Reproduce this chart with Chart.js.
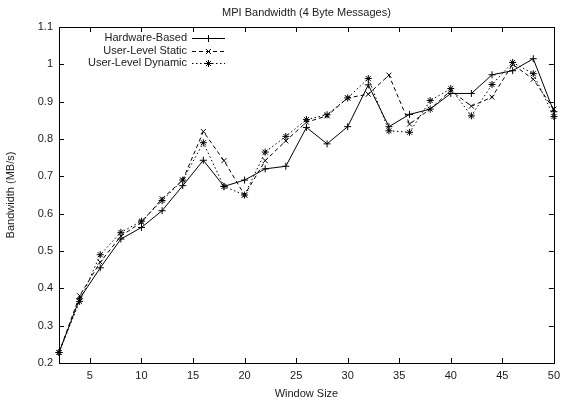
<!DOCTYPE html>
<html>
<head>
<meta charset="utf-8">
<script src="https://cdn.jsdelivr.net/npm/chart.js@4/dist/chart.umd.min.js"></script>
<style>
html,body{margin:0;padding:0;background:#fff;}
#wrap{width:566px;height:404px;position:relative;}
</style>
</head>
<body>
<div id="wrap"><canvas id="c" width="566" height="404"></canvas></div>
<script>
const windowSizes = [2,4,6,8,10,12,14,16,18,20,22,24,26,28,30,32,34,36,38,40,42,44,46,48,50];
const hardwareBased = [0.228,0.372,0.455,0.532,0.563,0.608,0.675,0.743,0.673,0.690,0.720,0.727,0.831,0.787,0.833,0.945,0.833,0.866,0.880,0.922,0.922,0.972,0.983,1.015,0.873];
const userStatic = [0.228,0.380,0.470,0.540,0.577,0.640,0.690,0.820,0.742,0.650,0.742,0.795,0.845,0.862,0.910,0.920,0.971,0.840,0.880,0.930,0.888,0.912,1.000,0.960,0.880];
const userDynamic = [0.228,0.365,0.490,0.550,0.580,0.635,0.690,0.790,0.673,0.650,0.765,0.807,0.852,0.865,0.910,0.962,0.822,0.818,0.903,0.935,0.862,0.946,1.005,0.975,0.860];
const xTicks = [5,10,15,20,25,30,35,40,45,50];
const yTicks = [0.2,0.3,0.4,0.5,0.6,0.7,0.8,0.9,1.0,1.1];
const seriesNames = ['Hardware-Based','User-Level Static','User-Level Dynamic'];
const titleText = 'MPI Bandwidth (4 Byte Messages)';

const FONT = '"Liberation Sans", Arial, sans-serif';
const TXT = '#1a1a1a';

function pts(arr){ return windowSizes.map((x,i)=>({x:x,y:arr[i]})); }

const styles = [
  {dash:[], point:'cross'},
  {dash:[4,3], point:'crossRot'},
  {dash:[1.5,2.5], point:'star'}
];
const seriesData = [hardwareBased, userStatic, userDynamic];

const datasets = seriesData.map((arr,i)=>({
  label: seriesNames[i],
  data: pts(arr),
  borderColor:'#000',
  backgroundColor:'#000',
  borderWidth:1,
  borderDash: styles[i].dash,
  pointStyle: styles[i].point,
  pointRadius: 3.5,
  pointBorderWidth: 1,
  pointBorderColor:'#000',
  tension:0,
  fill:false,
  clip:false
}));

const framePlugin = {
  id:'frame',
  afterDraw(chart){
    const ctx = chart.ctx, a = chart.chartArea;
    const xs = chart.scales.x, ys = chart.scales.y;
    ctx.save();
    ctx.strokeStyle = '#000';
    ctx.lineWidth = 1;
    ctx.setLineDash([]);
    ctx.strokeRect(Math.round(a.left)+0.5, Math.round(a.top)+0.5, Math.round(a.right-a.left), Math.round(a.bottom-a.top));
    const L = 5;
    ctx.beginPath();
    xTicks.forEach(v=>{
      const px = Math.round(xs.getPixelForValue(v))+0.5;
      ctx.moveTo(px, a.bottom); ctx.lineTo(px, a.bottom-L);
      ctx.moveTo(px, a.top); ctx.lineTo(px, a.top+L);
    });
    yTicks.forEach(v=>{
      const py = Math.round(ys.getPixelForValue(v))+0.5;
      ctx.moveTo(a.left, py); ctx.lineTo(a.left+L, py);
      ctx.moveTo(a.right, py); ctx.lineTo(a.right-L, py);
    });
    ctx.stroke();

    // title
    ctx.fillStyle = TXT;
    ctx.font = '11px ' + FONT;
    ctx.textAlign = 'center';
    ctx.textBaseline = 'middle';
    ctx.fillText(titleText, (a.left+a.right)/2, 13);

    // legend
    const textRight = 187, lx0 = 192, lx1 = 225;
    const rowY = [38, 50.5, 62.5];
    chart.data.datasets.forEach((ds,i)=>{
      const y = rowY[i];
      ctx.fillStyle = TXT;
      ctx.textAlign = 'right';
      ctx.fillText(ds.label, textRight, y);
      ctx.strokeStyle = '#000';
      ctx.lineWidth = 1;
      ctx.setLineDash(ds.borderDash);
      ctx.beginPath();
      ctx.moveTo(lx0, Math.round(y)+0.5);
      ctx.lineTo(lx1, Math.round(y)+0.5);
      ctx.stroke();
      ctx.setLineDash([]);
      Chart.helpers.drawPoint(ctx, {pointStyle: ds.pointStyle, radius: 3.5, borderWidth: 1, rotation:0}, (lx0+lx1)/2, Math.round(y)+0.5);
    });
    ctx.restore();
  }
};

new Chart(document.getElementById('c'), {
  type:'line',
  data:{datasets:datasets},
  options:{
    responsive:false,
    animation:false,
    devicePixelRatio:1,
    layout:{padding:{top:27, right:8, left:0, bottom:0}},
    plugins:{legend:{display:false}, title:{display:false}, tooltip:{enabled:false}},
    scales:{
      x:{
        type:'linear', min:2, max:50,
        grid:{display:false, drawTicks:false},
        border:{display:false},
        afterBuildTicks(s){ s.ticks = xTicks.map(v=>({value:v})); },
        afterFit(s){ s.height = 41; },
        ticks:{color:TXT, font:{family:FONT,size:11}, padding:6, maxRotation:0, autoSkip:false},
        title:{display:true, text:'Window Size', color:TXT, font:{family:FONT,size:11}, padding:{top:0,bottom:3}}
      },
      y:{
        type:'linear', min:0.2, max:1.1,
        grid:{display:false, drawTicks:false},
        border:{display:false},
        afterBuildTicks(s){ s.ticks = yTicks.map(v=>({value:v})); },
        afterFit(s){ s.width = 59; },
        ticks:{color:TXT, font:{family:FONT,size:11}, padding:6, autoSkip:false,
          callback:(v)=>String(Number(v.toFixed(1)))},
        title:{display:true, text:'Bandwidth (MB/s)', color:TXT, font:{family:FONT,size:11}, padding:{top:4,bottom:0}}
      }
    }
  },
  plugins:[framePlugin]
});
</script>
</body>
</html>
